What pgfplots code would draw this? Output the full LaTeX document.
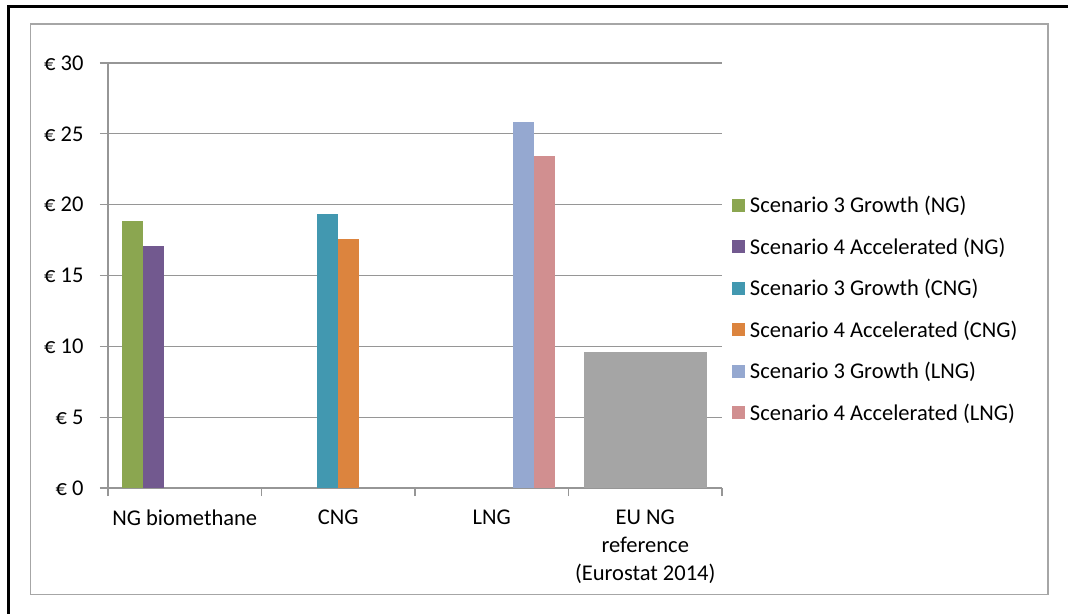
\documentclass[border=0pt]{standalone}
\usepackage{pgfplots}
\pgfplotsset{compat=1.18}
\usepackage{fontspec}
\setmainfont{Carlito}
\definecolor{cgreen}{RGB}{139,166,80}
\definecolor{cpurple}{RGB}{114,89,143}
\definecolor{cteal}{RGB}{66,152,176}
\definecolor{corange}{RGB}{220,132,62}
\definecolor{cblue}{RGB}{149,168,208}
\definecolor{cpink}{RGB}{209,143,144}
\definecolor{cgray}{RGB}{165,165,165}
\definecolor{gridgray}{RGB}{150,150,150}
\definecolor{framegray}{RGB}{166,166,166}
\begin{document}
\begin{tikzpicture}[x=1pt,y=1pt]
\path[use as bounding box] (0,0) rectangle (1068,613);
\draw[black, line width=2.4pt] (8.5,-5) -- (8.5,606.3) -- (1075,606.3);
\draw[framegray, line width=1.6pt] (30.5,18.5) rectangle (1048,589);
\begin{axis}[
  at={(108pt,125pt)}, anchor=south west,
  scale only axis, width=614pt, height=425pt,
  font=\fontsize{22.5}{28}\selectfont,
  tick label style={font=\fontsize{22.5}{28}\selectfont},
  /pgf/number format/assume math mode=true,
  xmin=-0.5, xmax=3.5, ymin=0, ymax=30,
  axis x line*=bottom, axis y line*=left,
  axis line style={gridgray, line width=1.3pt},
  ytick={0,5,...,30},
  yticklabel={€ \pgfmathprintnumber{\tick}},
  yticklabel style={xshift=-13pt},
  ymajorgrids, grid style={gridgray, line width=1.3pt},
  tick align=outside, major tick length=8pt, minor tick length=8pt,
  tick style={gridgray, line width=1.3pt},
  xtick={0,1,2,3},
  xticklabels={NG biomethane, CNG, LNG, {EU NG\\reference\\(Eurostat 2014)}},
  xticklabel style={align=center, yshift=-10pt},
  major x tick style={draw=none},
  minor xtick={-0.5,0.5,1.5,2.5,3.5},
  ybar, bar width=0.1368,
  legend style={at={(1.011,0.421)}, anchor=west, draw=none, fill=none,
    row sep=19.6pt, font=\fontsize{22.5}{28}\selectfont},
  legend cell align=left,
  legend image code/.code={\fill[#1] (0pt,-6.5pt) rectangle (13pt,6.5pt); \path (16pt,0pt);},
]
\addplot[fill=cgreen, draw=none, bar shift=-0.342] coordinates {(0,18.85)};
\addlegendentry{Scenario 3 Growth (NG)}
\addplot[fill=cpurple, draw=none, bar shift=-0.205] coordinates {(0,17.05)};
\addlegendentry{Scenario 4 Accelerated (NG)}
\addplot[fill=cteal, draw=none, bar shift=-0.068] coordinates {(1,19.35)};
\addlegendentry{Scenario 3 Growth (CNG)}
\addplot[fill=corange, draw=none, bar shift=0.068] coordinates {(1,17.55)};
\addlegendentry{Scenario 4 Accelerated (CNG)}
\addplot[fill=cblue, draw=none, bar shift=0.205] coordinates {(2,25.85)};
\addlegendentry{Scenario 3 Growth (LNG)}
\addplot[fill=cpink, draw=none, bar shift=0.342] coordinates {(2,23.4)};
\addlegendentry{Scenario 4 Accelerated (LNG)}
\addplot[fill=cgray, draw=none, bar shift=0, bar width=0.804, forget plot] coordinates {(3,9.6)};
\end{axis}
\end{tikzpicture}
\end{document}
